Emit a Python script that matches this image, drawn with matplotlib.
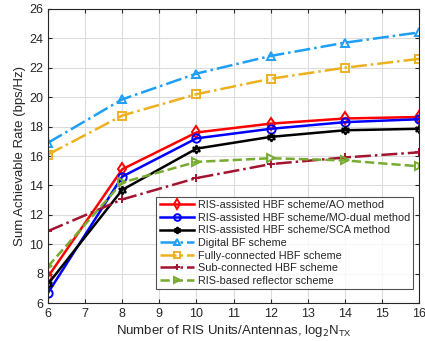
import matplotlib.pyplot as plt
import numpy as np

plt.rcParams['font.family'] = ['Liberation Sans', 'DejaVu Sans']
plt.rcParams['text.color'] = '#262626'
plt.rcParams['axes.labelcolor'] = '#262626'
plt.rcParams['xtick.color'] = '#262626'
plt.rcParams['ytick.color'] = '#262626'

# == DATA ==
n_units = [6, 8, 10, 12, 14, 16]
rate_ao = [7.8, 15.1, 17.6, 18.2, 18.55, 18.65]
rate_mo = [6.7, 14.6, 17.2, 17.85, 18.3, 18.5]
rate_sca = [7.3, 13.7, 16.5, 17.3, 17.75, 17.85]
rate_digital = [16.9, 19.85, 21.6, 22.8, 23.7, 24.4]
rate_fully = [16.1, 18.75, 20.2, 21.25, 22.0, 22.6]
rate_sub = [10.9, 13.05, 14.5, 15.45, 15.9, 16.25]
rate_reflector = [8.5, 14.2, 15.6, 15.85, 15.7, 15.3]

x_ticks = list(range(6, 17))
y_ticks = list(range(6, 27, 2))

# == PLOT ==
fig = plt.figure(figsize=(4.25, 3.41), dpi=100)
ax = fig.add_axes([0.113, 0.111, 0.873, 0.863])

series = [
    (rate_ao, 'RIS-assisted HBF scheme/AO method', '#ff0000', '-', 'd'),
    (rate_mo, 'RIS-assisted HBF scheme/MO-dual method', '#0000ff', '-', 'o'),
    (rate_sca, 'RIS-assisted HBF scheme/SCA method', '#000000', '-', (6, 1, 0)),
    (rate_digital, 'Digital BF scheme', '#1e9ff5', '-.', '^'),
    (rate_fully, 'Fully-connected HBF scheme', '#edb120', '-.', 's'),
    (rate_sub, 'Sub-connected HBF scheme', '#a2142f', '-.', '+'),
    (rate_reflector, 'RIS-based reflector scheme', '#77ac30', '--', '>'),
]

for vals, label, color, ls, mk in series:
    ax.plot(n_units, vals, linestyle=ls, color=color, linewidth=1.8,
            marker=mk, markersize=6, markerfacecolor='none',
            markeredgecolor=color, markeredgewidth=1.4, label=label)

ax.set_xlim(6, 16)
ax.set_ylim(6, 26)
ax.set_xticks(x_ticks)
ax.set_yticks(y_ticks)
ax.tick_params(direction='in', labelsize=9, length=3, top=True, right=True)
ax.grid(True, color='#dcdcdc', linewidth=0.8)
for s in ax.spines.values():
    s.set_linewidth(0.8)
    s.set_color('#262626')

ax.set_xlabel(r'Number of RIS Units/Antennas, log$_2$N$_{\mathregular{TX}}$',
              fontsize=9.5, labelpad=2)
ax.set_ylabel('Sum Achievable Rate (bps/Hz)', fontsize=9.5, labelpad=2)

leg = ax.legend(loc='lower right', bbox_to_anchor=(0.984, 0.048),
                fontsize=7.8, frameon=True, fancybox=False, markerscale=0.8,
                handlelength=3.2, handletextpad=0.3, labelspacing=0.24,
                borderpad=0.3, borderaxespad=0)
leg.get_frame().set_edgecolor('#262626')
leg.get_frame().set_linewidth(0.8)

fig.savefig('out.png', dpi=100)
